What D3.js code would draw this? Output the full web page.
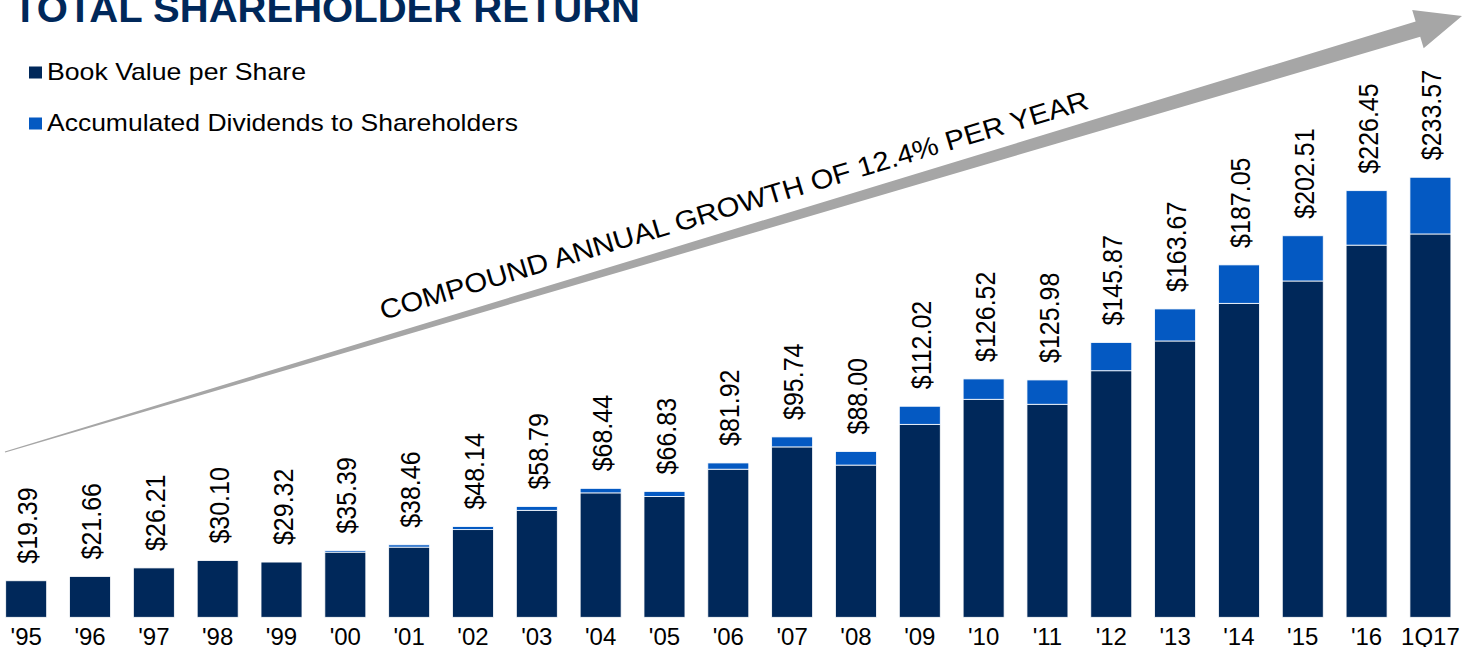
<!DOCTYPE html>
<html>
<head>
<meta charset="utf-8">
<script src="https://cdn.jsdelivr.net/npm/d3@7"></script>
<style>
  html, body { margin: 0; padding: 0; background: #fff; }
  svg { display: block; }
  text { font-family: "Liberation Sans", Arial, Helvetica, sans-serif; }
</style>
</head>
<body>
<svg id="chart" width="1476" height="647"></svg>
<script>
// ---- Data ----
const categories = ["'95","'96","'97","'98","'99","'00","'01","'02","'03","'04","'05","'06","'07","'08","'09","'10","'11","'12","'13","'14","'15","'16","1Q17"];
const bookValue = [19.39,21.66,26.21,30.10,29.32,34.59,37.26,46.54,56.79,66.04,64.13,78.62,90.44,80.80,102.42,115.72,113.08,130.87,146.67,166.65,178.51,197.55,203.47];
const dividends = [0,0,0,0,0,0.8,1.2,1.6,2.0,2.4,2.7,3.3,5.3,7.2,9.6,10.8,12.9,15.0,17.0,20.4,24.0,28.9,30.1];
const totalLabels = ["$19.39","$21.66","$26.21","$30.10","$29.32","$35.39","$38.46","$48.14","$58.79","$68.44","$66.83","$81.92","$95.74","$88.00","$112.02","$126.52","$125.98","$145.87","$163.67","$187.05","$202.51","$226.45","$233.57"];
const seriesNames = ["Book Value per Share","Accumulated Dividends to Shareholders"];
const titleText = "TOTAL SHAREHOLDER RETURN";
const arrowText = "COMPOUND ANNUAL GROWTH OF 12.4% PER YEAR";

const NAVY = "#00285A";
const BLUE = "#0459C2";
const GREY = "#A6A6A6";

const svg = d3.select("#chart");

// ---- Scales ----
const x = d3.scaleBand().domain(categories).range([5.7, 1450.9]).paddingInner(0.358).paddingOuter(0);
const y = d3.scaleLinear().domain([0, 250]).range([617.3, 146.3]);

const rows = categories.map((c, i) => ({cat: c, book: bookValue[i], div: dividends[i], label: totalLabels[i]}));
const stack = d3.stack().keys(["book", "div"])(rows);
const colors = [NAVY, BLUE];

// ---- Title ----
svg.append("text")
  .attr("x", 13).attr("y", 22)
  .attr("font-size", 39).attr("font-weight", "bold")
  .attr("fill", NAVY)
  .attr("textLength", 627).attr("lengthAdjust", "spacingAndGlyphs")
  .text(titleText);

// ---- Legend ----
const legend = svg.append("g");
const legendY = [80, 131];
const legendLen = [259, 471];
seriesNames.forEach((name, i) => {
  legend.append("rect")
    .attr("x", 29).attr("y", legendY[i] - 13.5)
    .attr("width", 13).attr("height", 12)
    .attr("fill", colors[i]);
  legend.append("text")
    .attr("x", 47).attr("y", legendY[i])
    .attr("font-size", 24).attr("fill", "#000")
    .attr("textLength", legendLen[i]).attr("lengthAdjust", "spacingAndGlyphs")
    .text(name);
});

// ---- Growth arrow ----
const S = [5, 452], T = [1462, 16];
const len = Math.hypot(T[0] - S[0], T[1] - S[1]);
const u = [(T[0] - S[0]) / len, (T[1] - S[1]) / len];
const n = [-u[1], u[0]];
const B = [T[0] - u[0] * 46, T[1] - u[1] * 46];
const pt = (p, k) => [p[0] + n[0] * k, p[1] + n[1] * k];
const arrowPts = [pt(S, -0.6), pt(B, -8), pt(B, -20), T, pt(B, 20), pt(B, 8), pt(S, 0.6)];
svg.append("path")
  .attr("d", d3.line()(arrowPts) + "Z")
  .attr("fill", GREY);

const angle = Math.atan2(u[1], u[0]) * 180 / Math.PI;
const P0 = [S[0] + u[0] * 400 - n[0] * 18, S[1] + u[1] * 400 - n[1] * 18];
svg.append("text")
  .attr("transform", `translate(${P0[0]},${P0[1]}) rotate(${angle})`)
  .attr("font-size", 27).attr("fill", "#000")
  .attr("textLength", 738).attr("lengthAdjust", "spacingAndGlyphs")
  .text(arrowText);

// ---- Bars ----
const layers = svg.append("g").selectAll("g").data(stack).join("g")
  .attr("fill", (d, i) => colors[i]);
layers.selectAll("rect")
  .data(d => d.filter(s => s[1] - s[0] > 0))
  .join("rect")
  .attr("x", d => x(d.data.cat))
  .attr("width", x.bandwidth())
  .attr("y", d => y(d[1]))
  .attr("height", d => y(d[0]) - y(d[1]))
  .attr("stroke", "#ffffff")
  .attr("stroke-width", 0.8);

// ---- Value labels ----
svg.append("g").selectAll("text").data(rows).join("text")
  .attr("transform", d => `translate(${x(d.cat) + x.bandwidth() / 2 + 1},${y(d.book + d.div) - 17}) rotate(-90) scale(1,1.12)`)
  .attr("dy", "0.36em")
  .attr("font-size", 25).attr("fill", "#000")
  .text(d => d.label);

// ---- X axis ----
const xAxis = svg.append("g")
  .attr("transform", "translate(0,645)")
  .call(d3.axisBottom(x).tickSize(0).tickPadding(0));
xAxis.select(".domain").remove();
xAxis.selectAll("text")
  .attr("dy", 0).attr("y", 0)
  .attr("font-size", 24).attr("fill", "#000")
  .attr("font-family", "Liberation Sans, Arial, sans-serif");
</script>
</body>
</html>
